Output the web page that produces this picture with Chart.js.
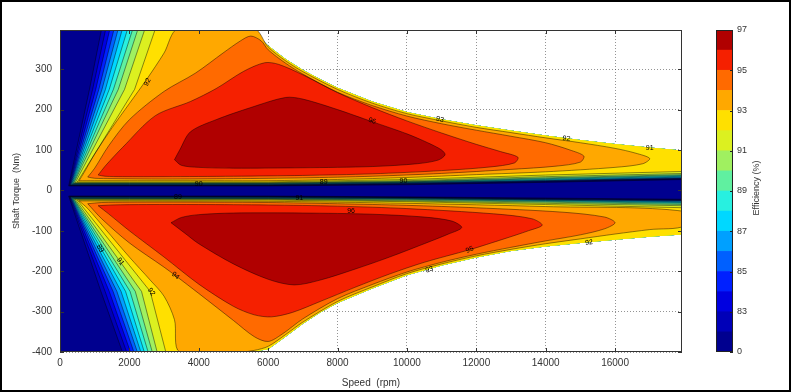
<!DOCTYPE html>
<html>
<head>
<meta charset="utf-8">
<script src="https://cdn.jsdelivr.net/npm/chart.js@4.4.0/dist/chart.umd.min.js"></script>
<style>
  html, body { margin: 0; padding: 0; background: #fff; }
  #wrap { position: relative; width: 791px; height: 392px; overflow: hidden; }
  #frame { position: absolute; left: 0; top: 0; width: 787px; height: 388px; border: 2px solid #000; pointer-events: none; }
  #map { position: absolute; left: 0; top: 0; }
  #bar { position: absolute; left: 716px; top: 0; }
</style>
</head>
<body>
<div id="wrap">
  <canvas id="map" width="791" height="392"></canvas>
  <canvas id="bar" width="75" height="392"></canvas>
  <div id="frame"></div>
</div>
<script>
// ---------- data ----------
// efficiency levels of the filled contours (%)
const levels = [82, 83, 84, 85, 86, 87, 88, 89, 90, 91, 92, 93, 94, 95, 96];
// one colour per band: <82, 82-83, ... 96-97
const bandColors = ['#00008F', '#0000B8', '#0000E0', '#0020FF', '#0060FF', '#00A0FF', '#00D8FF', '#28F0E0',
                    '#60F0A0', '#A0F060', '#DCF020', '#FFE000', '#FFA800', '#FF6A00', '#F52000', '#B00000'];
const colorbarTicks = ['0', '83', '85', '87', '89', '91', '93', '95', '97'];
const speedTicks = [0, 2000, 4000, 6000, 8000, 10000, 12000, 14000, 16000];
const torqueTicks = [-400, -300, -200, -100, 0, 100, 200, 300];

// torque limit envelope (Nm) vs speed (rpm)
const envSpeed  = [0, 5500, 6000, 6500, 7000, 7500, 8000, 9000, 10000, 11000, 12000, 13000, 14000, 15000, 16000, 17000, 18000];
const envTop    = [400, 400, 358, 325, 298, 275, 254, 220, 194, 176, 161, 148, 136, 125, 115, 106, 98];
const envBottom = [-400, -400, -393, -362, -330, -302, -279, -243, -210, -186, -166, -150, -139, -130, -122, -115, -109];

// contours 82..92 start near zero torque, fan out and leave through the torque limit
const fanBaseUp  = [250, 265, 280, 295, 310, 330, 350, 375, 400, 440, 500];
const fanMidUp   = [850, 940, 1030, 1120, 1210, 1310, 1420, 1540, 1680, 1860, 2150];   // speed at +250 Nm
const fanTopUp   = [1200, 1320, 1440, 1560, 1680, 1800, 1950, 2100, 2250, 2450, 2750]; // speed at +400 Nm
const fanBaseLow = [250, 265, 280, 295, 310, 330, 350, 375, 400, 440, 500];
const fanMidLow  = [1180, 1300, 1420, 1530, 1640, 1760, 1890, 2020, 2170, 2350, 2600];  // speed at -250 Nm
const fanTopLow  = [1800, 1920, 2030, 2130, 2230, 2330, 2430, 2540, 2660, 2800, 3050];  // speed at -400 Nm

// low-torque edge of contours 82..92 (Nm) at these speeds
const bandSpeed = [2000, 6000, 10000, 14000, 18000];
const bandUp = [
  [11, 11, 14, 20, 27], [12, 12, 15, 21, 28], [12.5, 12.5, 16, 22, 29], [13, 13, 17, 23, 30],
  [14, 14, 18, 24, 31], [15, 15, 19, 25, 33], [16, 16, 20, 27, 35], [17, 17, 21, 29, 37],
  [18, 18, 22, 31, 39], [19, 19, 24, 34, 42], [21, 21, 27, 38, 47]
];
const bandLow = [
  [-14, -14, -16, -19, -22], [-15, -15, -17, -20, -23], [-15.5, -15.5, -17.5, -21, -24], [-16, -16, -18, -22, -25],
  [-17, -17, -19, -23, -26], [-18, -18, -20, -24, -28], [-19, -19, -21, -25, -30], [-20, -20, -22, -27, -32],
  [-21, -21, -24, -29, -35], [-22, -22, -26, -32, -38], [-24, -24, -28, -35, -43]
];

// closed contours 93..96, [speed, torque]
const loop93Up = [[550,24],[700,45],[1000,90],[1500,155],[2000,215],[2500,275],[3000,340],[3400,400],[5600,400],[6000,355],[6500,321],
  [7000,294],[8000,250],[9000,216],[10000,190],[11000,172],[12000,156],[13000,143],[14000,130],[15000,118],[16000,104],
  [16600,92],[17000,79],[16800,66],[16000,57],[14000,46],[12000,39],[10000,32],[8000,27],[6000,24],[4000,24],[2000,24],[1000,24]];
const loop94Up = [[800,33],[1000,55],[1400,110],[2000,175],[3000,245],[3900,290],[4700,340],[5200,370],[5500,382],[5800,370],
  [6000,348],[6500,315],[7000,288],[8000,243],[9000,210],[10000,184],[11000,165],[12000,149],[13000,134],[14000,118],
  [14700,100],[15100,85],[15000,70],[14300,60],[13000,52],[11000,42],[9000,35],[7000,31],[5000,29],[3000,28],[1500,29],[1000,30]];
const loop95Up = [[1100,38],[1300,60],[1800,106],[2750,185],[3760,220],[4500,252],[5300,295],[5900,316],[6300,312],[7000,286],
  [8000,242],[9000,205],[10000,172],[11000,142],[12000,114],[12700,96],[13200,82],[13100,68],[12400,58],[11000,49],
  [9000,41],[7000,37],[5000,35],[3000,34],[1800,34],[1300,35]];
const loop96Up = [[3300,76],[3450,100],[3760,145],[4500,175],[5500,205],[6500,230],[7000,226],[8000,200],[9000,170],[10000,140],
  [10600,118],[11000,100],[11100,88],[10900,75],[10300,66],[9000,59],[7000,56],[5000,55],[4000,57],[3500,62]];

const loop93Low = [[550,-26],[800,-45],[1300,-95],[2000,-165],[2600,-222],[3000,-262],[3300,-320],[3450,-400],[5200,-400],[5600,-396],
  [6000,-386],[6500,-357],[7000,-326],[8000,-275],[9000,-239],[10000,-206],[11000,-182],[12000,-162],[13000,-146],[14000,-132],
  [15000,-120],[16000,-108],[17000,-97],[18000,-88],[18000,-52],[14000,-40],[10000,-32],[6000,-27],[2000,-26],[1000,-26]];
const loop94Low = [[800,-33],[1200,-70],[2000,-130],[3000,-190],[3330,-211],[4000,-255],[5000,-322],[5600,-362],[6000,-374],[6400,-356],
  [7000,-318],[8000,-268],[9000,-233],[10000,-202],[11000,-178],[12000,-158],[13000,-141],[14000,-125],[15000,-110],[15700,-95],
  [16000,-80],[15700,-66],[14500,-54],[12000,-43],[10000,-37],[8000,-33],[6000,-30],[4000,-29],[2000,-29],[1200,-30]];
const loop95Low = [[1100,-38],[1400,-58],[2000,-100],[3000,-165],[4000,-232],[5000,-287],[5600,-308],[6100,-313],[6700,-302],[7500,-275],
  [8500,-240],[9500,-207],[10500,-178],[11800,-147],[12800,-120],[13500,-100],[13900,-86],[13600,-70],[12500,-58],[10000,-45],
  [8000,-39],[6000,-36],[4000,-35],[2500,-35],[1500,-36]];
const loop96Low = [[3200,-80],[3600,-106],[4000,-132],[5000,-182],[6000,-220],[6750,-234],[7500,-222],[8500,-195],[9500,-165],[10500,-132],
  [11200,-108],[11580,-92],[11300,-76],[10500,-66],[9000,-59],[7000,-56],[5000,-56],[4000,-60],[3500,-67]];

// inline contour labels
const labelSpeed  = [2520, 9000, 10950, 14600, 17000, 1160, 1740, 2630, 3330, 8390, 11810, 10650, 15250, 4000, 7600, 9900, 3400, 6900];
const labelTorque = [268, 172, 176, 128, 104, -144, -176, -251, -211, -52, -147, -196, -129, 16, 20, 22, -16, -20];
const labelText   = ['92', '96', '93', '92', '91', '89', '91', '92', '94', '96', '95', '93', '92', '90', '89', '90', '89', '91'];
const labelAngle  = [-60, 18, 14, 8, 0, 58, 55, 55, 38, 0, -22, -18, -8, 0, 0, 0, 0, 0];

// ---------- build chart ----------
const FONT = "'Liberation Sans', Arial, Helvetica, sans-serif";
const LINE = 'rgba(0,0,0,0.55)';

const pt = p => ({ x: p[0], y: p[1] });

function fillSet(points, color, order) {
  return { data: points, backgroundColor: color, borderWidth: 0, borderColor: 'transparent',
           fill: 'shape', pointRadius: 0, tension: 0, order: order, clip: 0 };
}
function lineSet(points, tension) {
  return { data: points, borderColor: LINE, borderWidth: 0.8, fill: false, pointRadius: 0,
           tension: tension, order: -1, clip: 0 };
}

// fan contour: line from torque limit down to the low-torque edge, closed along the envelope
function fanContour(i, sign, base, mid, top, band, env) {
  const line = [{ x: top[i], y: sign * 400 }, { x: mid[i], y: sign * 250 }, { x: base[i], y: band[i][0] }];
  bandSpeed.forEach((s, k) => line.push({ x: s, y: band[i][k] }));
  const edge = [];
  for (let k = envSpeed.length - 1; k >= 0; k--) {
    if (envSpeed[k] > top[i]) edge.push({ x: envSpeed[k], y: env[k] });
  }
  return { line: line, shape: line.concat(edge, [line[0]]) };
}

const datasets = [];
const envelope = envSpeed.map((s, k) => ({ x: s, y: envTop[k] }));
for (let k = envSpeed.length - 1; k >= 0; k--) envelope.push({ x: envSpeed[k], y: envBottom[k] });
datasets.push(fillSet(envelope, bandColors[0], 1000));

for (let i = 0; i < 11; i++) {
  const up = fanContour(i, 1, fanBaseUp, fanMidUp, fanTopUp, bandUp, envTop);
  const lo = fanContour(i, -1, fanBaseLow, fanMidLow, fanTopLow, bandLow, envBottom);
  datasets.push(fillSet(up.shape, bandColors[i + 1], 100 - levels[i]));
  datasets.push(fillSet(lo.shape, bandColors[i + 1], 100 - levels[i]));
  datasets.push(lineSet(up.line, 0));
  datasets.push(lineSet(lo.line, 0));
}

const loops = [[loop93Up, loop93Low], [loop94Up, loop94Low], [loop95Up, loop95Low], [loop96Up, loop96Low]];
loops.forEach((pair, j) => {
  const lvl = 11 + j;
  pair.forEach(loop => {
    const pts = loop.map(pt);
    pts.push(pt(loop[0]));
    const f = fillSet(pts, bandColors[lvl + 1], 100 - levels[lvl]);
    f.tension = 0.3;
    datasets.push(f);
    datasets.push(lineSet(pts, 0.3));
  });
});

const boxPlugin = {
  id: 'box',
  afterDatasetsDraw(chart) {
    const { ctx, scales: { x, y } } = chart;
    ctx.save();
    ctx.fillStyle = '#000';
    ctx.font = '7px ' + FONT;
    ctx.textAlign = 'center';
    ctx.textBaseline = 'middle';
    labelText.forEach((t, i) => {
      ctx.save();
      ctx.translate(x.getPixelForValue(labelSpeed[i]), y.getPixelForValue(labelTorque[i]));
      ctx.rotate(labelAngle[i] * Math.PI / 180);
      ctx.fillText(t, 0, 0);
      ctx.restore();
    });
    ctx.restore();
  },
  afterDraw(chart) {
    const { ctx, chartArea: a, scales: { x, y } } = chart;
    ctx.save();
    ctx.strokeStyle = '#333';
    ctx.lineWidth = 1;
    ctx.strokeRect(a.left + 0.5, a.top + 0.5, a.width - 1, a.height - 1);
    ctx.beginPath();
    x.ticks.forEach(t => {
      const p = Math.round(x.getPixelForValue(t.value)) + 0.5;
      ctx.moveTo(p, a.bottom); ctx.lineTo(p, a.bottom - 4);
      ctx.moveTo(p, a.top); ctx.lineTo(p, a.top + 4);
    });
    y.ticks.forEach(t => {
      const p = Math.round(y.getPixelForValue(t.value)) + 0.5;
      ctx.moveTo(a.left, p); ctx.lineTo(a.left + 4, p);
      ctx.moveTo(a.right, p); ctx.lineTo(a.right - 4, p);
    });
    ctx.stroke();
    ctx.restore();
  }
};

new Chart(document.getElementById('map'), {
  type: 'line',
  data: { datasets: datasets },
  options: {
    responsive: false,
    animation: false,
    events: [],
    layout: { padding: { left: 0, right: 109, top: 30, bottom: 0 } },
    plugins: { legend: { display: false }, tooltip: { enabled: false } },
    scales: {
      x: {
        type: 'linear', min: 0, max: 17930, z: 1,
        afterFit: s => { s.height = 40; },
        afterBuildTicks: s => { s.ticks = speedTicks.map(v => ({ value: v })); },
        grid: { color: 'rgba(60,60,60,0.55)', lineWidth: 1, drawTicks: false },
        border: { display: false, dash: [1, 2] },
        ticks: { padding: 5, maxRotation: 0, autoSkip: false, color: '#333',
                 font: { family: FONT, size: 10 }, callback: v => String(v) },
        title: { display: true, text: 'Speed  (rpm)', color: '#333', font: { family: FONT, size: 10 },
                 padding: { top: 0, bottom: 3 } }
      },
      y: {
        type: 'linear', min: -400, max: 397, z: 1,
        afterFit: s => { s.width = 60; },
        afterBuildTicks: s => { s.ticks = torqueTicks.map(v => ({ value: v })); },
        grid: { color: 'rgba(60,60,60,0.55)', lineWidth: 1, drawTicks: false },
        border: { display: false, dash: [1, 2] },
        ticks: { padding: 8, autoSkip: false, color: '#333',
                 font: { family: FONT, size: 10 }, callback: v => String(v) },
        title: { display: true, text: 'Shaft Torque  (Nm)', color: '#333', font: { family: FONT, size: 9 },
                 padding: { top: 11, bottom: 0 } }
      }
    }
  },
  plugins: [boxPlugin]
});

// ---------- colour bar ----------
const barPlugin = {
  id: 'barFrame',
  afterDraw(chart) {
    const { ctx, chartArea: a, scales: { y } } = chart;
    ctx.save();
    ctx.strokeStyle = '#222';
    ctx.lineWidth = 1;
    ctx.strokeRect(a.left + 0.5, a.top + 0.5, a.width - 1, a.height - 1);
    ctx.beginPath();
    y.ticks.forEach(t => {
      const p = Math.round(y.getPixelForValue(t.value)) + 0.5;
      ctx.moveTo(a.right, p); ctx.lineTo(a.right - 3, p);
    });
    ctx.stroke();
    ctx.fillStyle = '#333';
    ctx.font = '9px ' + FONT;
    ctx.textAlign = 'center';
    ctx.textBaseline = 'middle';
    ctx.translate(41, 188);
    ctx.rotate(-Math.PI / 2);
    ctx.fillText('Efficiency (%)', 0, 0);
    ctx.restore();
  }
};

new Chart(document.getElementById('bar'), {
  type: 'bar',
  data: {
    labels: [''],
    datasets: bandColors.map(c => ({ data: [1], backgroundColor: c, borderWidth: 0,
                                     barPercentage: 1, categoryPercentage: 1 }))
  },
  options: {
    responsive: false,
    animation: false,
    events: [],
    layout: { padding: { left: 0, right: 0, top: 30, bottom: 40 } },
    plugins: { legend: { display: false }, tooltip: { enabled: false } },
    scales: {
      x: { display: false, stacked: true },
      y: {
        stacked: true, position: 'right', min: 0, max: 16,
        afterFit: s => { s.width = 58; },
        grid: { display: false, drawTicks: false },
        border: { display: false },
        ticks: { stepSize: 2, padding: 4, color: '#333', font: { family: FONT, size: 9 },
                 callback: v => colorbarTicks[v / 2] }
      }
    }
  },
  plugins: [barPlugin]
});
</script>
</body>
</html>
